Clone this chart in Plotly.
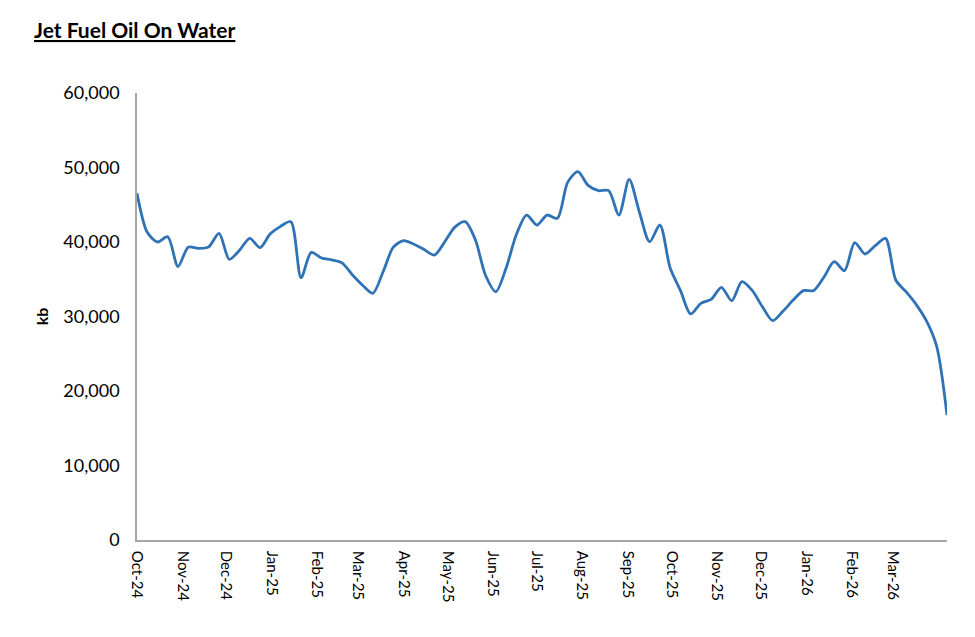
import plotly.graph_objects as go
import pandas as pd

# Weekly observations, kb
start_date = "2024-10-01"
n_weeks = 80
values = [
    46540, 41300, 40000, 40700, 36700, 39300, 39150, 39350, 41170, 37680,
    38900, 40490, 39240, 41100, 42100, 42730, 35210, 38610, 37850, 37600,
    37200, 35600, 34200, 33110, 36000, 39300, 40180, 39700, 39000, 38250,
    40000, 42000, 42730, 40300, 35500, 33330, 36500, 41000, 43620, 42280,
    43620, 43180, 48000, 49440, 47600, 46890, 46890, 43620, 48410, 44000,
    40040, 42280, 36500, 33500, 30340, 31770, 32300, 33920, 32120, 34680,
    33500, 31300, 29440, 30700, 32200, 33470, 33500, 35300, 37360, 36150,
    39910, 38390, 39500, 40490, 34900, 33330, 31600, 29400, 25950, 16780,
]
dates = pd.date_range(start_date, periods=n_weeks, freq="7D")

tick_dates = pd.date_range("2024-10-01", "2026-03-01", freq="MS")
tick_labels = [d.strftime("%b-%y") for d in tick_dates]
y_ticks = [0, 10000, 20000, 30000, 40000, 50000, 60000]
y_labels = ["0", "10,000", "20,000", "30,000", "40,000", "50,000", "60,000"]

W, H = 975, 637
L, R, T, B = 129, 36, 85, 105

fig = go.Figure()
fig.add_trace(go.Scatter(
    x=dates, y=values, mode="lines",
    line=dict(color="#2F72B6", width=2.8, shape="spline", smoothing=0.8),
    hoverinfo="x+y", showlegend=False,
))

fig.update_layout(
    width=W, height=H,
    margin=dict(l=L, r=R, t=T, b=B),
    paper_bgcolor="white", plot_bgcolor="white",
    font=dict(family="Lato", color="#000000"),
    xaxis=dict(
        type="date",
        range=[dates[0], dates[-1]],
        tickvals=list(tick_dates), ticktext=tick_labels,
        tickangle=90, tickfont=dict(size=15, family="Lato", color="#000"),
        showline=True, linecolor="#A6A6A6", linewidth=1.5,
        showgrid=False, zeroline=False, ticks="",
        ticklabelstandoff=6,
    ),
    yaxis=dict(
        range=[0, 60000],
        tickvals=y_ticks, ticktext=y_labels,
        tickfont=dict(size=18, family="Lato", color="#000"),
        showline=True, linecolor="#A6A6A6", linewidth=1.5,
        showgrid=False, zeroline=False, ticks="",
        ticklabelstandoff=12,
        title=dict(text="<b>kb</b>", font=dict(size=16, family="Lato"), standoff=11),
    ),
    annotations=[dict(
        text="<b><u>Jet Fuel Oil On Water</u></b>",
        x=(24 - L) / (W - L - R), y=1 + (T - 21) / (H - T - B),
        xref="paper", yref="paper",
        showarrow=False, xanchor="left", yanchor="middle",
        font=dict(size=21, family="Lato", color="#000"),
    )],
)

fig.write_html("out.html")
